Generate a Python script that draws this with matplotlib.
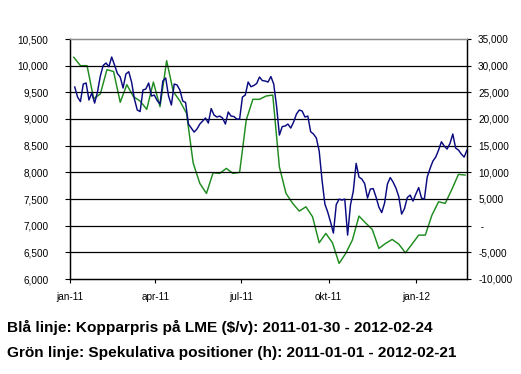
import matplotlib
matplotlib.use("Agg")
import matplotlib.pyplot as plt
import matplotlib.dates as mdates
import pandas as pd
import numpy as np

# ---- data ----
# Copper price on LME ($/t), sampled every 3 days (left axis)
blue_start = "2011-01-06"
blue_values = [
    9600, 9412, 9327, 9656, 9675, 9356, 9487, 9299, 9506, 9806,
    10003, 10050, 9980, 10162, 10012, 9853, 9787, 9581, 9843, 9887,
    9693, 9374, 9168, 9140, 9543, 9562, 9675, 9431, 9449, 9346,
    9281, 9712, 9768, 9431, 9262, 9656, 9637, 9543, 9337, 9309,
    8905, 8830, 8755, 8812, 8905, 8962, 9018, 8924, 9196, 9074,
    9037, 9055, 9018, 8905, 9131, 9055, 9046, 8999, 8999, 9412,
    9449, 9693, 9605, 9628, 9665, 9787, 9721, 9712, 9693, 9796,
    9656, 9243, 8699, 8858, 8868, 8905, 8830, 8943, 9093, 9168,
    9149, 9037, 9055, 8761, 8718, 8643, 8399, 7855, 7405, 7255,
    7067, 6861, 7395, 7498, 7480, 7498, 6823, 7386, 7648, 8168,
    7911, 7874, 7789, 7517, 7686, 7695, 7536, 7348, 7245, 7423,
    7780, 7902, 7817, 7705, 7545, 7217, 7320, 7527, 7573, 7461,
    7592, 7714, 7517, 7498, 7911, 8071, 8211, 8286, 8418, 8573,
    8493, 8436, 8540, 8718, 8455, 8418, 8343, 8286, 8418,
]
blue_dates = pd.date_range(blue_start, periods=len(blue_values), freq="3D")

# Speculative positions (contracts), weekly (right axis)
green_start = "2011-01-05"
green_values = [
    31570, 30000, 30000, 23800, 24700, 29250, 28900, 23140, 26430, 24180,
    23370, 21810, 26930, 22300, 30930, 25150, 23370, 21060, 11740, 7930,
    6050, 9920, 9800, 10740, 9800, 9990, 19800, 23690, 23690, 24310,
    24490, 11000, 6050, 4180, 2730, 3540, 1660, -3210, -1450, -3210,
    -7080, -5200, -2710, 1800, 500, -700, -4270, -3330, -2580, -3460,
    -5090, -3460, -1770, -1770, 1980, 4480, 4180, 6800, 9620, 9490,
]
green_dates = pd.date_range(green_start, periods=len(green_values), freq="7D")

left_ticks = [6000, 6500, 7000, 7500, 8000, 8500, 9000, 9500, 10000, 10500]
right_ticks = [-10000, -5000, 0, 5000, 10000, 15000, 20000, 25000, 30000, 35000]
x_ticks = ["2011-01-01", "2011-04-01", "2011-07-01", "2011-10-01", "2012-01-01"]
x_labels = ["jan-11", "apr-11", "jul-11", "okt-11", "jan-12"]
x_range = ["2011-01-01", "2012-02-24"]

caption1 = "Blå linje: Kopparpris på LME ($/v): 2011-01-30 - 2012-02-24"
caption2 = "Grön linje: Spekulativa positioner (h): 2011-01-01 - 2012-02-21"

# ---- figure ----
W, H = 521, 374
fig = plt.figure(figsize=(W / 100, H / 100), dpi=100)
ax = fig.add_axes([70 / W, 1 - 279 / H, (467 - 70) / W, (279 - 39) / H])
ax2 = ax.twinx()

tick_font = dict(family=["Liberation Sans", "DejaVu Sans"], size=7.2)

ax.set_xlim(pd.Timestamp(x_range[0]), pd.Timestamp(x_range[1]))
ax.set_ylim(left_ticks[0], left_ticks[-1])
ax2.set_ylim(right_ticks[0], right_ticks[-1])

for v in left_ticks[1:-1]:
    ax.axhline(v, color="black", lw=0.9, zorder=1)

ax2.plot(green_dates, green_values, color="#1E8C1E", lw=1.05, zorder=3)
ax.plot(blue_dates, blue_values, color="#0A0A80", lw=1.05, zorder=4)
ax.set_zorder(ax2.get_zorder() + 1)
ax.patch.set_visible(False)

ax.set_yticks(left_ticks)
ax.set_yticklabels([f"{v:,}" for v in left_ticks], **tick_font)
ax2.set_yticks(right_ticks)
ax2.set_yticklabels([(" -" if v == 0 else f"{v:,}") for v in right_ticks], **tick_font)
ax.set_xticks([pd.Timestamp(d) for d in x_ticks])
ax.set_xticklabels(x_labels, **tick_font)

ax.tick_params(axis="y", direction="out", length=3.5, width=0.8, pad=12, colors="black")
ax2.tick_params(axis="y", direction="out", length=3, width=0.8, pad=5, colors="black")
ax.tick_params(axis="x", direction="out", length=3, width=0.8, pad=6, colors="black")

for a in (ax, ax2):
    a.spines["top"].set_color("#8c8c8c")
    a.spines["top"].set_linewidth(0.9)
    for s in ("left", "right", "bottom"):
        a.spines[s].set_color("black")
        a.spines[s].set_linewidth(0.9)

cap_font = dict(family=["Liberation Sans", "DejaVu Sans"],
                weight="bold", size=11.1, color="black")
fig.text(7 / W, 1 - 332 / H, caption1, ha="left", va="baseline", **cap_font)
fig.text(7 / W, 1 - 357 / H, caption2, ha="left", va="baseline", **cap_font)

fig.savefig("out.png", dpi=100)
